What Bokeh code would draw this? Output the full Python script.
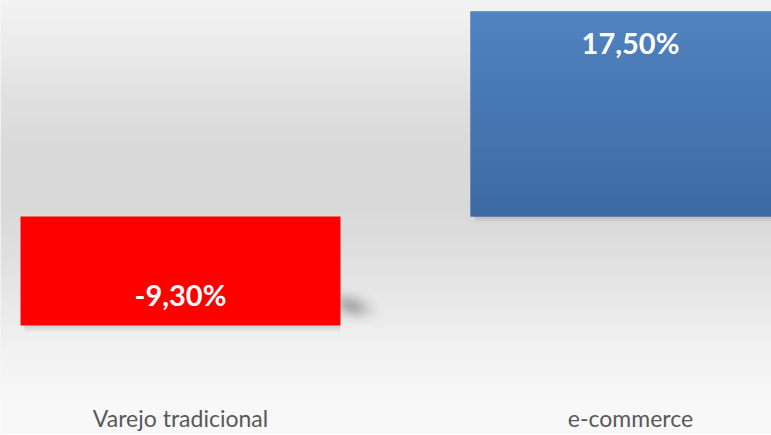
import numpy as np
from bokeh.plotting import figure
from bokeh.models import ColumnDataSource, Range1d, FixedTicker, LabelSet
from bokeh.core.properties import value
from bokeh.embed import file_html
from bokeh.resources import INLINE

# ---- data ----
categories = ["Varejo tradicional", "e-commerce"]
growth = [-9.30, 17.50]
value_labels = ["-9,30%", "17,50%"]

# ---- layout / style ----
FRAME_W = 771
FRAME_H = 400
PX_PER_UNIT = 11.72          # vertical pixels per percentage point
ZERO_PX = 216                # y pixel of the zero line
CAT_SPACING = 450.0          # horizontal pixels between categories
FIRST_CAT_PX = 180.0
BAR_W = 0.711

positions = list(range(len(categories)))
x_lo = -FIRST_CAT_PX / CAT_SPACING
x_hi = (FRAME_W - FIRST_CAT_PX) / CAT_SPACING
y_hi = ZERO_PX / PX_PER_UNIT
y_lo = -(FRAME_H - ZERO_PX) / PX_PER_UNIT
pxx = 1.0 / CAT_SPACING
pxy = 1.0 / PX_PER_UNIT

p = figure(frame_width=FRAME_W, frame_height=FRAME_H, output_backend="svg",
           toolbar_location=None,
           x_range=Range1d(x_lo, x_hi), y_range=Range1d(y_lo, y_hi),
           min_border=0, y_axis_location=None)


def rgba_image(r, g, b, alpha):
    h, w = alpha.shape
    img = np.empty((h, w), dtype=np.uint32)
    v = img.view(dtype=np.uint8).reshape((h, w, 4))
    v[:, :, 0] = r
    v[:, :, 1] = g
    v[:, :, 2] = b
    v[:, :, 3] = np.clip(alpha * 255, 0, 255).astype(np.uint8)
    return img


# ---- background gradient (styling) ----
stops_y = [0, 50, 100, 150, 200, 250, 300, 350, 400, 440]
stops_g = [243, 235, 224, 218, 217, 223, 233, 242, 248, 249]
ys = np.arange(FRAME_H)
gcol = np.interp(ys, stops_y, stops_g).astype(np.uint8)[::-1]
gg = np.repeat(gcol[:, None], 2, axis=1)
bg = rgba_image(gg, gg, gg, np.ones((FRAME_H, 2)))
p.image_rgba(image=[bg], x=x_lo, y=y_lo, dw=x_hi - x_lo, dh=y_hi - y_lo)

# ---- soft shadows (styling) ----
for pos, v in zip(positions, growth):
    left, right = pos - BAR_W / 2, pos + BAR_W / 2
    base = min(v, 0)
    hh = 9
    a = (np.linspace(0.0, 1.0, hh) ** 1.6 * 0.14)[:, None] * np.ones((1, 2))
    p.image_rgba(image=[rgba_image(0, 0, 0, a)], x=left + 4 * pxx, y=base - hh * pxy,
                 dw=right - left - 4 * pxx, dh=hh * pxy)
    if v < 0:
        # perspective blob at the lower right corner
        W, Hh = 100, 70
        xx, yy = np.meshgrid(np.arange(W) - W / 2, np.arange(Hh) - Hh / 2)
        ang = np.deg2rad(16)
        u = xx * np.cos(ang) - yy * np.sin(ang)
        w_ = xx * np.sin(ang) + yy * np.cos(ang)
        al = 0.26 * np.exp(-(u / 18.0) ** 2 - (w_ / 10.0) ** 2)
        cx = right + 10 * pxx
        cy = v + 19 * pxy
        p.image_rgba(image=[rgba_image(0, 0, 0, al)], x=cx - W / 2 * pxx, y=cy - Hh / 2 * pxy,
                     dw=W * pxx, dh=Hh * pxy)

# ---- bars ----
bar_colors = ["#ff0000" if v < 0 else "#4776b1" for v in growth]
bar_src = ColumnDataSource(dict(x=positions, top=growth, color=bar_colors))
p.vbar(x="x", width=BAR_W, top="top", bottom=0, source=bar_src,
       fill_color="color", line_color=None)

# vertical gradient overlay on the positive bar (styling)
top_rgb = np.array([80, 131, 192])
bot_rgb = np.array([61, 106, 163])
NG = 100
t = np.linspace(0, 1, NG)[:, None]
cols = (bot_rgb[None, :] + (top_rgb - bot_rgb)[None, :] * t).round().astype(np.uint8)
for pos, v in zip(positions, growth):
    if v <= 0:
        continue
    r = np.repeat(cols[:, 0:1], 2, axis=1)
    gch = np.repeat(cols[:, 1:2], 2, axis=1)
    b = np.repeat(cols[:, 2:3], 2, axis=1)
    p.image_rgba(image=[rgba_image(r, gch, b, np.ones((NG, 2)))],
                 x=pos - BAR_W / 2, y=0, dw=BAR_W, dh=v)

# ---- value labels ----
lab_src = ColumnDataSource(dict(
    x=positions, y=growth, text=value_labels,
    off=[31 if v < 0 else -31 for v in growth],
))
p.add_layout(LabelSet(x="x", y="y", text="text", y_offset="off", source=lab_src,
                      text_align="center", text_baseline="middle",
                      text_font=value("Lato"), text_font_style="bold",
                      text_font_size="29px", text_color="white"))

# ---- axes / styling ----
p.xaxis.ticker = FixedTicker(ticks=positions)
p.xaxis.major_label_overrides = {i: c for i, c in zip(positions, categories)}
p.xaxis.axis_line_color = None
p.xaxis.major_tick_line_color = None
p.xaxis.minor_tick_line_color = None
p.xaxis.major_tick_out = 0
p.xaxis.major_tick_in = 0
p.xaxis.minor_tick_out = 0
p.xaxis.minor_tick_in = 0
p.xaxis.major_label_text_font = "Lato"
p.xaxis.major_label_text_font_size = "23px"
p.xaxis.major_label_text_color = "#595959"
p.xaxis.major_label_standoff = 3
p.xgrid.visible = False
p.ygrid.visible = False
p.outline_line_color = None
p.border_fill_color = "#f8f8f8"
p.background_fill_color = "#f0f0f0"

open("out.html", "w").write(file_html(p, INLINE))
